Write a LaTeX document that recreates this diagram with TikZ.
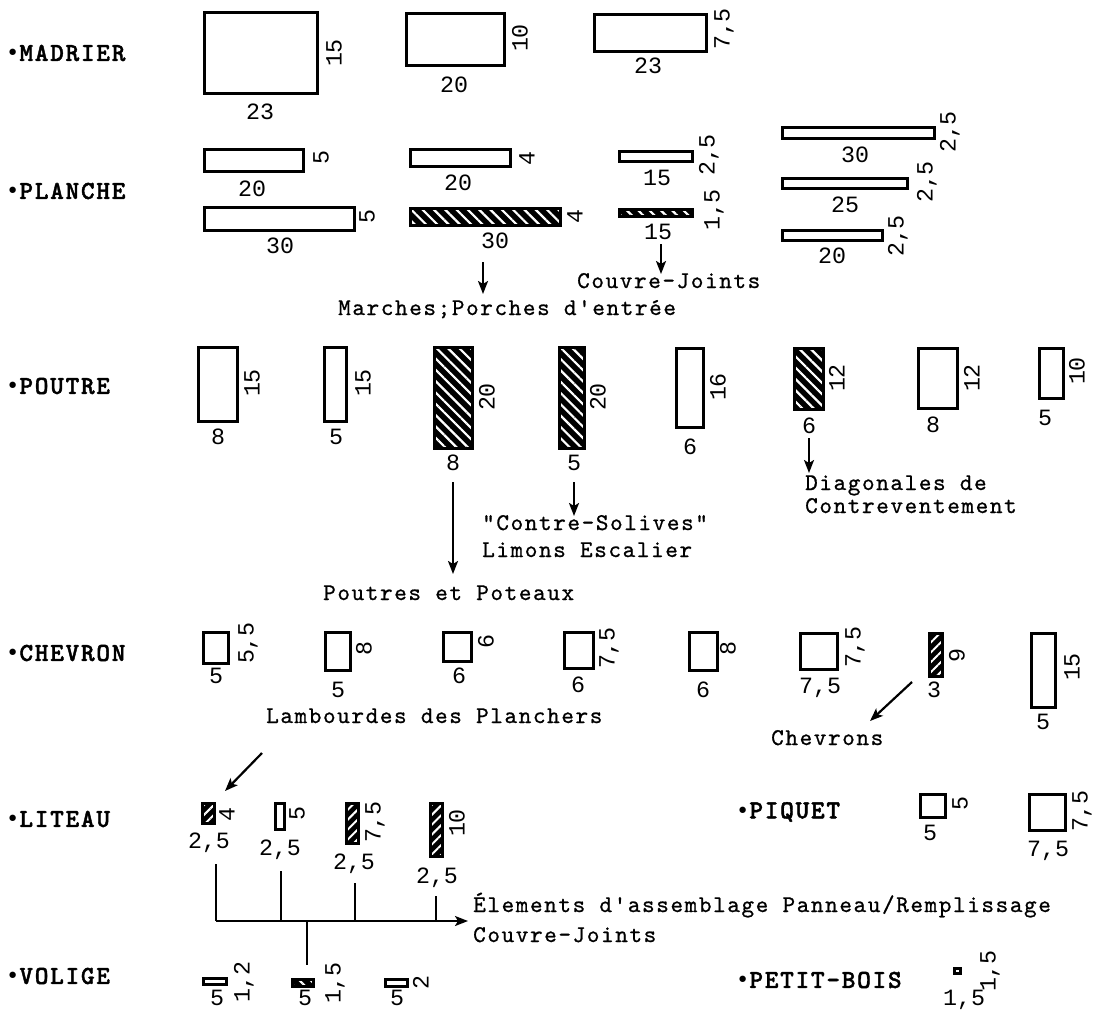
\documentclass[tikz,border=0pt]{standalone}
\usepackage{fontspec}
\usetikzlibrary{patterns.meta,arrows.meta}
\newfontfamily\catf{lmmonolt10-bold.otf}[LetterSpace=6.7,FakeBold=1.6]
\newfontfamily\lblf{lmmono10-regular.otf}[LetterSpace=6.7,FakeBold=0.8]
\newfontfamily\numf{Liberation Mono}
\newfontfamily\bulf{DejaVu Sans Mono}
\tikzset{
  bx/.style={draw=black, line width=2.6pt, fill=white, inner sep=0pt, outer sep=0pt},
  hbs/.style={bx, fill=black, postaction={pattern={Lines[angle=-45,distance=8pt,line width=2.2pt]}, pattern color=white}, postaction={draw=black, line width=2.6pt}},
  hbf/.style={bx, fill=black, postaction={pattern={Lines[angle=45,distance=7pt,line width=2pt]}, pattern color=white}, postaction={draw=black, line width=2.6pt}},
  num/.style={font={\numf\fontsize{23.3}{25}\selectfont}, inner sep=0pt, text height=15.4pt, text depth=0pt},
  rnum/.style={num, rotate=90},
  cat/.style={font={\catf\fontsize{26}{28}\selectfont}, anchor=west, inner sep=0pt},
  lbl/.style={font={\lblf\fontsize{24}{26}\selectfont}, anchor=base west, inner sep=0pt},
  arr/.style={-{Stealth[length=13pt,width=10pt,inset=3pt]}, line width=2.2pt},
  ln/.style={line width=2pt}
}
% \wbox[style]{name}{x1}{y1}{x2}{y2}
\newcommand\wbox[6][bx]{\node[#1,minimum width={#5-#3-2.6},minimum height={#6-#4-2.6}] (#2) at ({(#3+#5)/2},{(#4+#6)/2}) {};}
\newcommand\bul{{\bulf\fontsize{22}{26}\selectfont •}}
\begin{document}
\begin{tikzpicture}[x=1pt,y=-1pt]
\useasboundingbox (0,0) rectangle (1107,1009);
% ---------- MADRIER
\node[cat] (kmad) at (6,53) {\bul MADRIER};
\wbox{m1}{203}{11}{319}{95}
\node[rnum] (m1h) at (334,53) {15};
\node[num] (m1w) at (260,112) {23};
\wbox{m2}{405}{12}{506}{67}
\node[rnum] (m2h) at (520,38) {10};
\node[num] (m2w) at (454,85) {20};
\wbox{m3}{593}{13}{708}{53}
\node[rnum] (m3h) at (722,29) {7,5};
\node[num] (m3w) at (648,66) {23};
% ---------- PLANCHE
\node[cat] (kpla) at (6,191) {\bul PLANCHE};
\wbox{p1}{203}{148}{305}{173}
\node[rnum] (p1h) at (321,158) {5};
\node[num] (p1w) at (252,189) {20};
\wbox{p2}{203}{206}{356}{232}
\node[rnum] (p2h) at (367,217) {5};
\node[num] (p2w) at (280,246) {30};
\wbox{p3}{409}{148}{512}{168}
\node[rnum] (p3h) at (527,159) {4};
\node[num] (p3w) at (458,183) {20};
\wbox[hbs]{p4}{409}{207}{562}{227}
\node[rnum] (p4h) at (575,217) {4};
\node[num] (p4w) at (495,241) {30};
\coordinate (a1s) at (483,262); \coordinate (a1e) at (483,294);
\draw[arr] (a1s) -- (a1e);
\node[lbl] (tmar) at (338,315) {Marches;Porches d'entrée};
\wbox{p5}{618}{150}{694}{163}
\node[rnum] (p5h) at (707,155) {2,5};
\node[num] (p5w) at (657,178) {15};
\wbox[hbs]{p6}{618}{208}{694}{218}
\node[rnum] (p6h) at (712,210) {1,5};
\node[num] (p6w) at (658,232) {15};
\coordinate (a2s) at (661,244); \coordinate (a2e) at (661,274);
\draw[arr] (a2s) -- (a2e);
\node[lbl] (tcj1) at (577,288) {Couvre-Joints};
\wbox{p7}{781}{126}{936}{140}
\node[rnum] (p7h) at (948,132) {2,5};
\node[num] (p7w) at (855,155) {30};
\wbox{p8}{781}{177}{909}{190}
\node[rnum] (p8h) at (925,182) {2,5};
\node[num] (p8w) at (845,205) {25};
\wbox{p9}{781}{229}{884}{242}
\node[rnum] (p9h) at (896,236) {2,5};
\node[num] (p9w) at (832,256) {20};
% ---------- POUTRE
\node[cat] (kpou) at (6,386) {\bul POUTRE};
\wbox{b1}{197}{346}{239}{423}
\node[rnum] (b1h) at (252,383) {15};
\node[num] (b1w) at (218,437) {8};
\wbox{b2}{323}{346}{348}{423}
\node[rnum] (b2h) at (363,383) {15};
\node[num] (b2w) at (336,437) {5};
\wbox[hbs]{b3}{433}{346}{474}{450}
\node[rnum] (b3h) at (487,397) {20};
\node[num] (b3w) at (453,463) {8};
\wbox[hbs]{b4}{558}{346}{586}{450}
\node[rnum] (b4h) at (598,397) {20};
\node[num] (b4w) at (574,463) {5};
\coordinate (a3s) at (453,482); \coordinate (a3e) at (453,574);
\draw[arr] (a3s) -- (a3e);
\node[lbl] (tpou) at (323,600) {Poutres et Poteaux};
\coordinate (a4s) at (574,482); \coordinate (a4e) at (574,516);
\draw[arr] (a4s) -- (a4e);
\node[lbl] (tcs) at (482,530) {"Contre-Solives"};
\node[lbl] (tlim) at (482,557) {Limons Escalier};
\wbox{b5}{675}{347}{705}{429}
\node[rnum] (b5h) at (718,387) {16};
\node[num] (b5w) at (690,447) {6};
\wbox[hbs]{b6}{793}{347}{825}{411}
\node[rnum] (b6h) at (837,378) {12};
\node[num] (b6w) at (809,426) {6};
\coordinate (a5s) at (809,438); \coordinate (a5e) at (809,473);
\draw[arr] (a5s) -- (a5e);
\node[lbl] (tdia) at (805,490) {Diagonales de};
\node[lbl] (tcon) at (805,513) {Contreventement};
\wbox{b7}{917}{347}{959}{410}
\node[rnum] (b7h) at (972,378) {12};
\node[num] (b7w) at (933,425) {8};
\wbox{b8}{1038}{347}{1065}{400}
\node[rnum] (b8h) at (1077,371) {10};
\node[num] (b8w) at (1045,418) {5};
% ---------- CHEVRON
\node[cat] (kche) at (6,653) {\bul CHEVRON};
\wbox{c1}{202}{631}{230}{665}
\node[rnum] (c1h) at (246,643) {5,5};
\node[num] (c1w) at (216,676) {5};
\wbox{c2}{324}{631}{352}{672}
\node[rnum] (c2h) at (364,648) {8};
\node[num] (c2w) at (338,690) {5};
\wbox{c3}{442}{631}{473}{663}
\node[rnum] (c3h) at (486,641) {6};
\node[num] (c3w) at (459,676) {6};
\wbox{c4}{563}{631}{595}{670}
\node[rnum] (c4h) at (607,648) {7,5};
\node[num] (c4w) at (578,685) {6};
\wbox{c5}{688}{631}{719}{672}
\node[rnum] (c5h) at (728,648) {8};
\node[num] (c5w) at (703,690) {6};
\wbox{c6}{799}{632}{839}{671}
\node[rnum] (c6h) at (853,647) {7,5};
\node[num] (c6w) at (820,686) {7,5};
\wbox[hbf]{c7}{928}{632}{944}{678}
\node[rnum] (c7h) at (957,655) {9};
\node[num] (c7w) at (934,690) {3};
\coordinate (a6s) at (912,682); \coordinate (a6e) at (870,721);
\draw[arr] (a6s) -- (a6e);
\node[lbl] (tchv) at (771,745) {Chevrons};
\wbox{c8}{1030}{632}{1057}{709}
\node[rnum] (c8h) at (1072,667) {15};
\node[num] (c8w) at (1043,722) {5};
\node[lbl] (tlam) at (266,723) {Lambourdes des Planchers};
\coordinate (a7s) at (262,753); \coordinate (a7e) at (225,791);
\draw[arr] (a7s) -- (a7e);
% ---------- LITEAU
\node[cat] (klit) at (6,819) {\bul LITEAU};
\wbox[hbf]{l1}{201}{802}{216}{825}
\node[rnum] (l1h) at (227,814) {4};
\node[num] (l1w) at (209,841) {2,5};
\wbox{l2}{274}{802}{286}{831}
\node[rnum] (l2h) at (297,813) {5};
\node[num] (l2w) at (280,848) {2,5};
\wbox[hbf]{l3}{345}{802}{360}{845}
\node[rnum] (l3h) at (373,822) {7,5};
\node[num] (l3w) at (354,862) {2,5};
\wbox[hbf]{l4}{429}{802}{444}{858}
\node[rnum] (l4h) at (457,823) {10};
\node[num] (l4w) at (437,876) {2,5};
\coordinate (j1) at (216,864); \coordinate (k1) at (216,921);
\coordinate (j2) at (281,871); \coordinate (k2) at (281,921);
\coordinate (j3) at (355,883); \coordinate (k3) at (355,921);
\coordinate (j4) at (436,896); \coordinate (k4) at (436,921);
\coordinate (k5) at (307,921); \coordinate (j5) at (307,965);
\coordinate (ke) at (468,921);
\draw[ln] (j1) -- (k1);
\draw[ln] (j2) -- (k2);
\draw[ln] (j3) -- (k3);
\draw[ln] (j4) -- (k4);
\draw[ln] (k5) -- (j5);
\draw[arr, line width=2pt] (k1) -- (ke);
\node[lbl] (tele) at (473,912) {Élements d'assemblage Panneau/Remplissage};
\node[lbl] (tcj2) at (473,942) {Couvre-Joints};
% ---------- VOLIGE
\node[cat] (kvol) at (6,976) {\bul VOLIGE};
\wbox{v1}{202}{977}{228}{986}
\node[rnum] (v1h) at (242,982) {1,2};
\node[num] (v1w) at (217,998) {5};
\wbox[hbs]{v2}{291}{978}{315}{988}
\node[rnum] (v2h) at (333,983) {1,5};
\node[num] (v2w) at (305,998) {5};
\wbox{v3}{384}{978}{409}{988}
\node[rnum] (v3h) at (421,982) {2};
\node[num] (v3w) at (397,998) {5};
% ---------- PIQUET
\node[cat] (kpiq) at (736,812) {\bul PIQUET};
\wbox{q1}{919}{793}{947}{819}
\node[rnum] (q1h) at (960,803) {5};
\node[num] (q1w) at (930,833) {5};
\wbox{q2}{1028}{793}{1067}{832}
\node[rnum] (q2h) at (1080,811) {7,5};
\node[num] (q2w) at (1048,849) {7,5};
% ---------- PETIT-BOIS
\node[cat] (kpb) at (736,980) {\bul PETIT-BOIS};
\wbox{pb}{953}{967}{962}{975}
\node[rnum] (pbh) at (988,971) {1,5};
\node[num] (pbw) at (964,998) {1,5};
\end{tikzpicture}
\end{document}
